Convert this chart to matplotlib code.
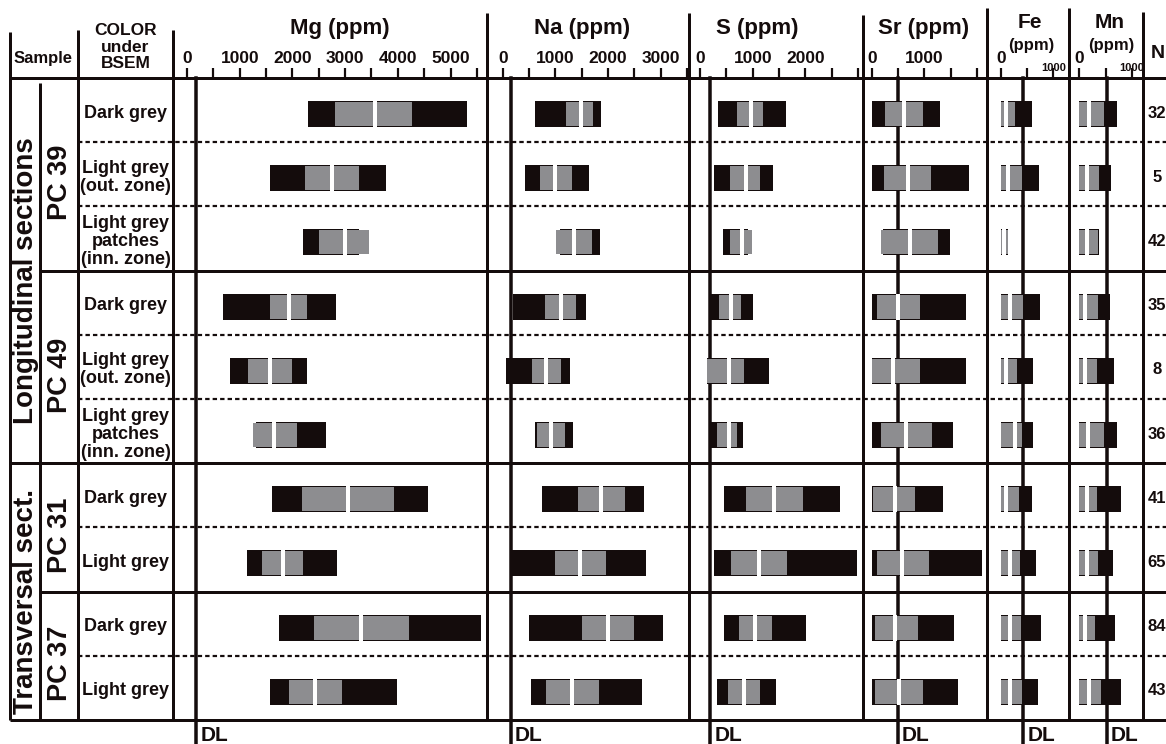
import matplotlib
matplotlib.use("Agg")
import matplotlib.pyplot as plt

plt.rcParams['font.family'] = ['Liberation Sans', 'DejaVu Sans']
plt.rcParams['font.weight'] = 'bold'

INK = '#140c0c'
GREY = '#8d8d90'

# ---- data (ppm) ----
color_labels = ['Dark grey', 'Light grey\n(out. zone)', 'Light grey\npatches\n(inn. zone)',
                'Dark grey', 'Light grey\n(out. zone)', 'Light grey\npatches\n(inn. zone)',
                'Dark grey', 'Light grey',
                'Dark grey', 'Light grey']
n_analyses = [32, 5, 42, 35, 8, 36, 41, 65, 84, 43]
samples = ['PC 39', 'PC 49', 'PC 31', 'PC 37']
sample_rows = [3, 3, 2, 2]
sections = ['Longitudinal sections', 'Transversal sect.']
section_rows = [6, 4]

elements = ['Mg', 'Na', 'S', 'Sr', 'Fe', 'Mn']
detection_limits = [170, 150, 190, 490, 430, 520]
axis_max = [5500, 3500, 3000, 2000, 1000, 1000]
label_max = [5000, 3000, 2000, 1000, 0, 0]

# min, q1, median, q3, max for each row
mg_stats = [[2290, 2810, 3560, 4260, 5320],
            [1580, 2240, 2750, 3270, 3780],
            [2210, 2510, 2990, 3450, 3270],
            [680, 1580, 1930, 2280, 2830],
            [810, 1150, 1570, 2000, 2280],
            [1300, 1260, 1660, 2090, 2630],
            [1620, 2180, 3060, 3920, 4570],
            [1130, 1420, 1830, 2200, 2850],
            [1740, 2410, 3300, 4220, 5570],
            [1580, 1940, 2430, 2940, 3990]]
na_stats = [[610, 1210, 1480, 1720, 1860],
            [430, 710, 1000, 1310, 1630],
            [1080, 1010, 1360, 1700, 1840],
            [190, 810, 1110, 1390, 1580],
            [60, 560, 820, 1100, 1280],
            [610, 650, 910, 1180, 1340],
            [750, 1430, 1860, 2330, 2690],
            [150, 990, 1460, 1960, 2720],
            [500, 1500, 1990, 2500, 3050],
            [530, 820, 1320, 1830, 2650]]
s_stats = [[340, 700, 960, 1200, 1640],
           [270, 570, 870, 1130, 1380],
           [440, 570, 790, 990, 920],
           [190, 360, 580, 770, 1010],
           [130, 140, 550, 840, 1310],
           [190, 320, 550, 700, 810],
           [460, 870, 1410, 1950, 2660],
           [270, 590, 1120, 1650, 2970],
           [460, 740, 1050, 1370, 2010],
           [330, 530, 840, 1140, 1450]]
sr_stats = [[0, 250, 610, 970, 1290],
            [0, 230, 680, 1130, 1840],
            [210, 180, 720, 1260, 1490],
            [0, 100, 490, 920, 1790],
            [0, 0, 400, 910, 1790],
            [0, 170, 660, 1140, 1540],
            [0, 20, 450, 820, 1360],
            [0, 100, 580, 1090, 2090],
            [0, 60, 450, 880, 1570],
            [0, 60, 510, 980, 1630]]
fe_stats = [[0, 0, 110, 270, 600],
            [0, 0, 130, 410, 720],
            [0, 0, 60, 140, 140],
            [0, 0, 170, 430, 750],
            [0, 0, 110, 300, 620],
            [0, 0, 270, 400, 610],
            [0, 0, 110, 340, 590],
            [0, 0, 170, 370, 670],
            [0, 0, 170, 390, 770],
            [0, 0, 170, 400, 700]]
mn_stats = [[0, 0, 180, 470, 720],
            [0, 0, 150, 370, 600],
            [0, 0, 150, 350, 370],
            [0, 0, 110, 360, 580],
            [0, 0, 110, 340, 660],
            [0, 0, 170, 460, 720],
            [0, 0, 150, 330, 790],
            [0, 0, 150, 360, 630],
            [0, 0, 100, 300, 680],
            [0, 0, 190, 410, 790]]
all_stats = [mg_stats, na_stats, s_stats, sr_stats, fe_stats, mn_stats]

# ---- layout (pixels) ----
W, H = 1166, 744
TOP, BOTTOM = 78, 720
nrows = len(color_labels)
row_h = (BOTTOM - TOP) / nrows
panel_left = [173, 487, 689, 863, 987, 1069]
panel_right = [487, 689, 863, 987, 1069, 1143]
panel_zero = [187, 502.7, 700, 871.7, 1000.7, 1079.3]
PX_PER_PPM = 0.0527


def pt(p):
    # pixels -> points at dpi 100
    return p * 0.72


fig = plt.figure(figsize=(W / 100, H / 100), dpi=100)
base = fig.add_axes([0, 0, 1, 1])
base.set_xlim(0, W)
base.set_ylim(H, 0)
base.axis('off')

LW = pt(3)

# header and bottom lines
base.plot([10, W], [TOP, TOP], color=INK, lw=LW, solid_capstyle='butt')
base.plot([10, W], [BOTTOM, BOTTOM], color=INK, lw=LW, solid_capstyle='butt')

# vertical frame lines (x, top)
frame_lines = [(10, 32), (40, 83), (78, 30), (173, 30), (487, 13), (689, 13),
               (863, 15), (987, 8), (1069, 8), (1143, 12)]
for x, y0 in frame_lines:
    base.plot([x, x], [y0, BOTTOM], color=INK, lw=LW, solid_capstyle='butt')

# row separators
sample_ends = [sum(sample_rows[:i + 1]) for i in range(len(sample_rows))]
section_ends = [sum(section_rows[:i + 1]) for i in range(len(section_rows))]
for i in range(1, nrows):
    y = TOP + i * row_h
    if i in section_ends:
        base.plot([10, W], [y, y], color=INK, lw=LW, solid_capstyle='butt')
    elif i in sample_ends:
        base.plot([40, W], [y, y], color=INK, lw=LW, solid_capstyle='butt')
    else:
        base.plot([78, W], [y, y], color=INK, lw=pt(2.2), linestyle=(0, (2, 1.4)))

# header texts
base.text(43, 59, 'Sample', ha='center', va='center', fontsize=12, color=INK)
base.text(125.5, 47, 'COLOR\nunder\nBSEM', ha='center', va='center', fontsize=12.5,
          linespacing=1.12, color=INK)
title_x = [340, 582, 757, 924]
for k in range(4):
    base.text(title_x[k], 34, f'{elements[k]} (ppm)', ha='center', va='baseline',
              fontsize=16, color=INK)
for k, xc in [(4, 1030), (5, 1110)]:
    base.text(xc, 28, elements[k], ha='center', va='baseline', fontsize=15, color=INK)
    base.text(xc + 1, 50, '(ppm)', ha='center', va='baseline', fontsize=12, color=INK)
base.text(1158, 53, 'N', ha='center', va='center', fontsize=14, color=INK)

# row labels and N
for i in range(nrows):
    yc = TOP + (i + 0.5) * row_h + 3
    base.text(125.5, yc, color_labels[i], ha='center', va='center', fontsize=13,
              linespacing=1.08, color=INK)
    base.text(1157, yc, str(n_analyses[i]), ha='center', va='center', fontsize=12,
              color=INK)

# sample and section labels (rotated)
start = 0
for name, n in zip(samples, sample_rows):
    yc = TOP + (start + n / 2) * row_h + 8
    base.text(60, yc, name, rotation=90, ha='center', va='center', fontsize=19.5,
              color=INK)
    start += n
start = 0
for name, n in zip(sections, section_rows):
    yc = TOP + (start + n / 2) * row_h + 10
    base.text(26, yc, name, rotation=90, ha='center', va='center', fontsize=20,
              color=INK)
    start += n

# element panels
ys = [i + 0.5 + 0.06 for i in range(nrows)]
black_h = 26 / row_h
grey_h = 24 / row_h
for k, el in enumerate(elements):
    l, r, z = panel_left[k], panel_right[k], panel_zero[k]
    ax = fig.add_axes([l / W, (H - BOTTOM) / H, (r - l) / W, (BOTTOM - TOP) / H])
    ax.set_xlim((l - z) / PX_PER_PPM, (r - z) / PX_PER_PPM)
    ax.set_ylim(nrows, 0)
    ax.patch.set_visible(False)
    for sp in ax.spines.values():
        sp.set_visible(False)
    ax.set_yticks([])

    ticks = list(range(0, axis_max[k] + 1, 500))
    labels = [str(t) if (t % 1000 == 0 and t <= label_max[k]) else '' for t in ticks]
    ax.set_xticks(ticks, labels)
    ax.tick_params(axis='x', top=True, bottom=False, labeltop=True, labelbottom=False,
                   direction='out', length=pt(10), width=pt(2.2), pad=1.5,
                   labelsize=12.5, color=INK, labelcolor=INK)
    if label_max[k] == 0:
        ax.annotate('1000', xy=(1000, 1), xycoords=('data', 'axes fraction'),
                    xytext=(0, 3.5), textcoords='offset points', ha='center',
                    va='bottom', fontsize=8, color=INK)

    stats = all_stats[k]
    mins = [s[0] for s in stats]
    q1s = [s[1] for s in stats]
    meds = [s[2] for s in stats]
    q3s = [s[3] for s in stats]
    maxs = [s[4] for s in stats]

    ax.barh(ys, [mx - mn for mn, mx in zip(mins, maxs)], left=mins, height=black_h,
            color=INK, zorder=2)
    ax.barh(ys, [b - a for a, b in zip(q1s, q3s)], left=q1s, height=grey_h,
            color=GREY, zorder=3)
    ax.vlines(meds, [y - black_h / 2 for y in ys], [y + black_h / 2 for y in ys],
              colors='white', lw=pt(4), zorder=4)

    # detection limit line and label
    dl = detection_limits[k]
    below = (H - BOTTOM) / (BOTTOM - TOP)
    ax.axvline(dl, ymin=-below, ymax=1, color=INK, lw=pt(3.5), zorder=1,
               clip_on=False)
    ax.annotate('DL', xy=(dl, -(741 - BOTTOM) / (BOTTOM - TOP)),
                xycoords=('data', 'axes fraction'), xytext=(3, 0),
                textcoords='offset points', ha='left', va='baseline',
                fontsize=15, color=INK, annotation_clip=False)

fig.savefig('out.png', dpi=100)
